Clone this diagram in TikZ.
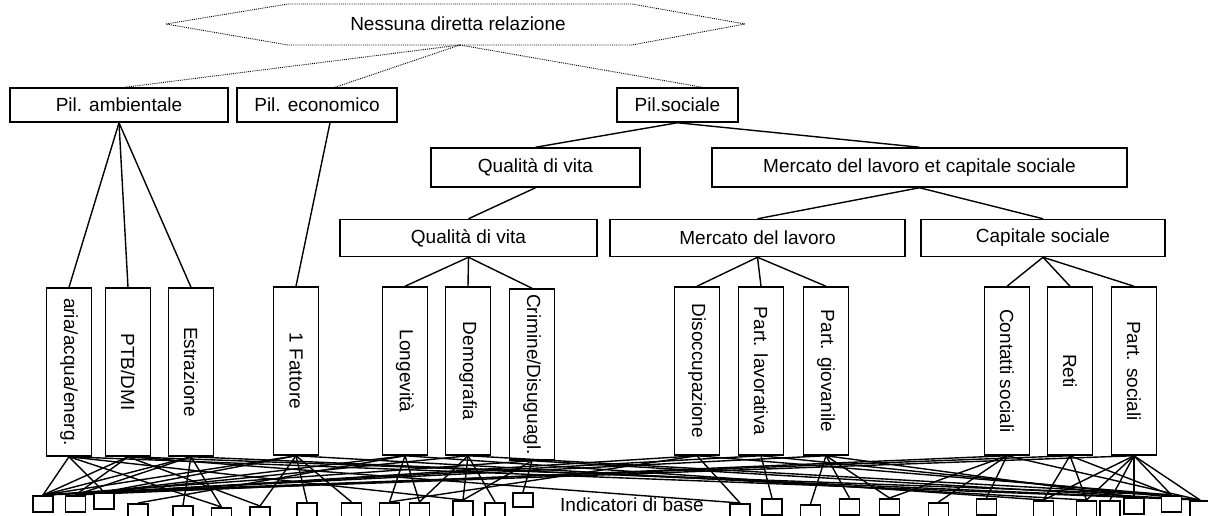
\documentclass[tikz,border=0pt]{standalone}
\usepackage{fontspec}
\setmainfont{Liberation Sans}
\begin{document}
\begin{tikzpicture}[x=1pt,y=-1pt,
  txt/.style={font=\fontsize{19}{22}\selectfont},
  box/.style={draw, line width=1.5pt, inner sep=0pt, txt},
  vbox/.style={draw, line width=1.5pt, rotate=-90, minimum width=168pt, minimum height=45pt, inner sep=0pt, txt},
  sq/.style={draw, fill=white, line width=1.5pt, minimum width=20pt, minimum height=16pt, inner sep=0pt, anchor=north},
  link/.style={line width=1.4pt},
  dotlink/.style={densely dotted, line width=0.9pt}]
\useasboundingbox (0,0) rectangle (1208,515);
\clip (0,0) rectangle (1208,515);

% top hexagon
\draw[dotlink] (166,24) -- (288,4) -- (632,4) -- (745,24) -- (632,45) -- (288,45) -- cycle;
\node[txt] (hex) at (458,24) {Nessuna diretta relazione};
\coordinate (hexb) at (460,45);

% pillars
\node[box, minimum width=218pt, minimum height=34pt] (pamb) at (119,105) {Pil. ambientale};
\node[box, minimum width=160pt, minimum height=34pt] (peco) at (317,105) {Pil. economico};
\node[box, minimum width=121pt, minimum height=34pt] (psoc) at (677.5,105) {Pil.sociale};

\draw[dotlink] (hexb) -- ([xshift=6pt]pamb.north);
\draw[dotlink] (hexb) -- ([xshift=18pt]peco.north);
\draw[dotlink] (hexb) -- ([xshift=25pt]psoc.north);

% level 3
\node[box, minimum width=209pt, minimum height=39pt] (qv1) at (535.5,167.5) {Qualità di vita};
\node[box, minimum width=415pt, minimum height=39pt] (mlcs) at (919.5,167.5) {Mercato del lavoro et capitale sociale};
\draw[link] (psoc.south) -- (qv1.north);
\draw[link] (psoc.south) -- (mlcs.north);

% level 4
\node[box, minimum width=257pt, minimum height=37pt] (qv2) at (468.5,238) {Qualità di vita};
\node[box, minimum width=295pt, minimum height=37pt] (ml) at (757.5,238) {Mercato del lavoro};
\node[box, minimum width=244pt, minimum height=37pt] (cs) at (1043,238) {Capitale sociale};
\draw[link] (qv1.south) -- (qv2.north);
\draw[link] (mlcs.south) -- (ml.north);
\draw[link] (mlcs.south) -- (cs.north);

% vertical boxes (west = top, east = bottom)
\node[vbox] (a1) at (69,372) {aria/acqua/energ.};
\node[vbox] (a2) at (128,372) {PTB/DMI};
\node[vbox] (a3) at (191,372) {Estrazione};
\node[vbox] (f)  at (296,371) {1 Fattore};
\node[vbox] (l)  at (405,371) {Longevità};
\node[vbox] (d)  at (468,371) {Demografia};
\node[vbox, minimum width=171pt] (c) at (532,374.5) {Crimine/Disuguagl.};
\node[vbox] (di) at (697,371) {Disoccupazione};
\node[vbox] (pl) at (761,371) {Part. lavorativa};
\node[vbox] (pg) at (826,371) {Part. giovanile};
\node[vbox] (ct) at (1007,371) {Contatti sociali};
\node[vbox] (r)  at (1070,371) {Reti};
\node[vbox] (ps) at (1134,371) {Part. sociali};

\foreach \k in {a1,a2,a3} \draw[link] (pamb.south) -- (\k.west);
\draw[link] ([xshift=13pt]peco.south) -- (f.west);
\foreach \k in {l,d,c} \draw[link] (qv2.south) -- (\k.west);
\foreach \k in {di,pl,pg} \draw[link] (ml.south) -- (\k.west);
\foreach \k in {ct,r,ps} \draw[link] (cs.south) -- (\k.west);

% bottom indicator squares
\coordinate (p1) at (43,495);
\coordinate (p2) at (75.5,495);
\coordinate (p3) at (104,492);
\coordinate (p4) at (138,503);
\coordinate (p5) at (183,505);
\coordinate (p6) at (221.5,507);
\coordinate (p7) at (260,506);
\coordinate (p8) at (307,502);
\coordinate (p9) at (351.5,502);
\coordinate (p10) at (389.5,502);
\coordinate (p11) at (419.5,502);
\coordinate (p12) at (463,500);
\coordinate (p13) at (495,502);
\coordinate (p14) at (523,492);
\coordinate (p15) at (740,503);
\coordinate (p16) at (772,498);
\coordinate (p17) at (810.5,504);
\coordinate (p18) at (849.5,498);
\coordinate (p19) at (889.5,498);
\coordinate (p20) at (938.5,502);
\coordinate (p21) at (986.5,498);
\coordinate (p22) at (1043.5,500);
\coordinate (p23) at (1086.5,500);
\coordinate (p24) at (1110,500);
\coordinate (p25) at (1134,497);
\coordinate (p26) at (1171.5,495);
\coordinate (p27) at (1200,500);

% web of links
\foreach \a/\b in {a1/1,a1/3,a1/6,a1/12,a1/27,
                   a2/1,a2/2,a2/7,a2/15,a2/26,
                   a3/1,a3/2,a3/5,a3/6,a3/25,
                   f/1,f/3,f/7,f/8,f/9,f/23,
                   l/2,l/4,l/10,l/11,l/22,
                   d/3,d/11,d/12,d/13,d/26,
                   c/1,c/12,c/14,c/27,
                   di/15,di/2,di/10,di/26,
                   pl/16,pl/3,pl/27,
                   pg/17,pg/18,pg/19,pg/1,pg/25,
                   ct/19,ct/20,ct/21,ct/2,ct/27,
                   r/22,r/23,r/3,r/26,
                   ps/22,ps/23,ps/24,ps/25,ps/26,ps/27,ps/1}
  \draw[link] (\a.east) -- (p\b);

\foreach \i in {1,...,13,15,16,...,27} \node[sq] (s\i) at (p\i) {};
\node[sq, minimum height=14pt] (s14) at (p14) {};

\node[txt, anchor=base] (ind) at (632,511) {Indicatori di base};
\end{tikzpicture}
\end{document}
